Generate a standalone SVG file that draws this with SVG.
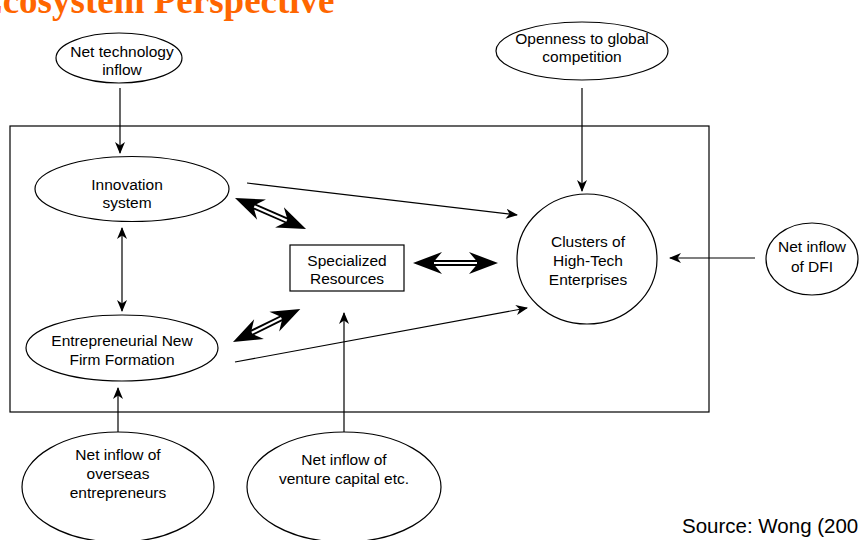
<svg xmlns="http://www.w3.org/2000/svg" width="863" height="540" viewBox="0 0 863 540">
<style>
.n{fill:#fff;stroke:#000;stroke-width:1.2}
.t{font-family:"Liberation Sans",Arial,sans-serif;font-size:15.5px;fill:#000;text-anchor:middle}
.c{fill:none;stroke:#000;stroke-width:1.2}
.title{font-family:"Liberation Serif","Times New Roman",serif;font-weight:bold;font-size:37px;fill:#FF6600}
</style>
<defs>
<marker id="ah" viewBox="0 0 12 10" refX="11" refY="5" markerWidth="12" markerHeight="10" markerUnits="userSpaceOnUse" orient="auto-start-reverse">
<path d="M0,0 L12,5 L0,10 L3.5,5 Z" fill="#000"/>
</marker>
</defs>
<rect width="863" height="540" fill="#fff"/>
<text class="title" x="-22" y="13">Ecosystem Perspective</text>
<rect x="10" y="126" width="699" height="286" fill="none" stroke="#000" stroke-width="1.2"/>
<g id="connectors">
<line class="c" x1="120" y1="88" x2="120" y2="153" marker-end="url(#ah)"/>
<line class="c" x1="122" y1="228" x2="122" y2="311" marker-start="url(#ah)" marker-end="url(#ah)"/>
<line class="c" x1="118" y1="445" x2="118" y2="388" marker-end="url(#ah)"/>
<line class="c" x1="582" y1="88" x2="582" y2="191" marker-end="url(#ah)"/>
<line class="c" x1="247" y1="183" x2="517" y2="215" marker-end="url(#ah)"/>
<line class="c" x1="235" y1="362" x2="527" y2="308" marker-end="url(#ah)"/>
<line class="c" x1="344" y1="444" x2="344" y2="313" marker-end="url(#ah)"/>
<line class="c" x1="755" y1="258" x2="670" y2="258" marker-end="url(#ah)"/>
<g transform="translate(413,263)">
<line x1="18" y1="0" x2="67" y2="0" stroke="#000" stroke-width="6"/>
<line x1="18" y1="0" x2="67" y2="0" stroke="#fff" stroke-width="2.2"/>
<path d="M0,0 L29,-11 L21,-1.5 L21,1.5 L29,11 Z M85,0 L56,-11 L64,-1.5 L64,1.5 L56,11 Z" fill="#000"/>
</g>
<g transform="translate(235,198) rotate(23.6)">
<line x1="18" y1="0" x2="59" y2="0" stroke="#000" stroke-width="6"/>
<line x1="18" y1="0" x2="59" y2="0" stroke="#fff" stroke-width="2.2"/>
<path d="M0,0 L29,-11 L21,-1.5 L21,1.5 L29,11 Z M77.5,0 L48.5,-11 L56.5,-1.5 L56.5,1.5 L48.5,11 Z" fill="#000"/>
</g>
<g transform="translate(233,342) rotate(-26.2)">
<line x1="18" y1="0" x2="57" y2="0" stroke="#000" stroke-width="6"/>
<line x1="18" y1="0" x2="57" y2="0" stroke="#fff" stroke-width="2.2"/>
<path d="M0,0 L29,-11 L21,-1.5 L21,1.5 L29,11 Z M75,0 L46,-11 L54,-1.5 L54,1.5 L46,11 Z" fill="#000"/>
</g>
</g>
<g id="net-tech">
<ellipse class="n" cx="119" cy="58" rx="63" ry="25"/>
<text class="t" x="122" y="57">Net technology</text>
<text class="t" x="122" y="75">inflow</text>
</g>
<g id="openness">
<ellipse class="n" cx="582" cy="51" rx="86" ry="29"/>
<text class="t" x="582" y="44">Openness to global</text>
<text class="t" x="582" y="62">competition</text>
</g>
<g id="innovation">
<ellipse class="n" cx="132" cy="189" rx="97" ry="32.5"/>
<text class="t" x="127" y="190">Innovation</text>
<text class="t" x="127" y="208">system</text>
</g>
<g id="entrepreneurial">
<ellipse class="n" cx="122" cy="348" rx="96" ry="33"/>
<text class="t" x="122" y="346">Entrepreneurial New</text>
<text class="t" x="122" y="365">Firm Formation</text>
</g>
<g id="specialized">
<rect class="n" x="290" y="245" width="114" height="46"/>
<text class="t" x="347" y="266">Specialized</text>
<text class="t" x="347" y="284">Resources</text>
</g>
<g id="clusters">
<ellipse class="n" cx="587" cy="259" rx="70" ry="65"/>
<text class="t" x="588" y="247">Clusters of</text>
<text class="t" x="588" y="266">High-Tech</text>
<text class="t" x="588" y="285">Enterprises</text>
</g>
<g id="dfi">
<ellipse class="n" cx="812" cy="259" rx="46" ry="36"/>
<text class="t" x="812" y="252">Net inflow</text>
<text class="t" x="812" y="272">of DFI</text>
</g>
<g id="overseas">
<ellipse class="n" cx="118" cy="487" rx="96" ry="55"/>
<text class="t" x="118" y="460">Net inflow of</text>
<text class="t" x="118" y="479">overseas</text>
<text class="t" x="118" y="498">entrepreneurs</text>
</g>
<g id="venture">
<ellipse class="n" cx="344" cy="487" rx="97" ry="55"/>
<text class="t" x="344" y="465">Net inflow of</text>
<text class="t" x="344" y="484">venture capital etc.</text>
</g>
<text x="682" y="533" style="font-family:'Liberation Sans',Arial,sans-serif;font-size:20.5px;fill:#000">Source: Wong (200</text>
</svg>
